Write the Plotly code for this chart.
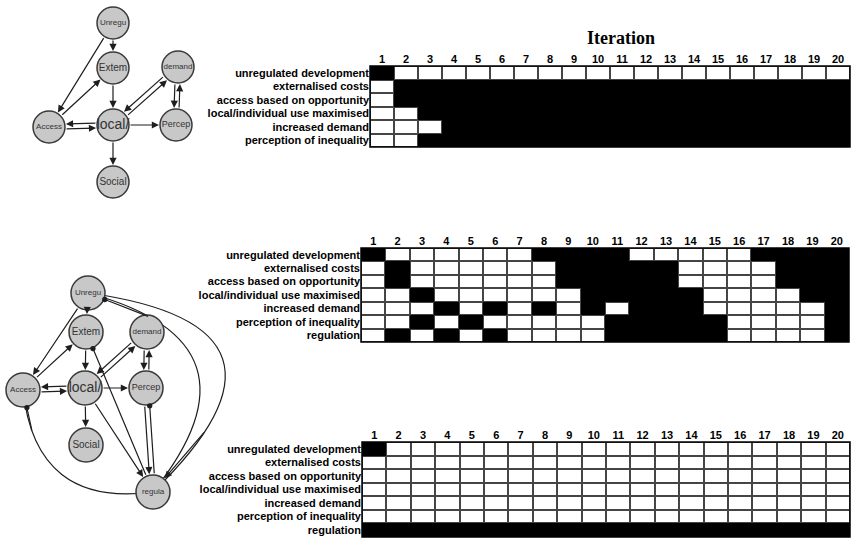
import math
import plotly.graph_objects as go

# ---- grid data -------------------------------------------------------------
ITERATIONS = [1, 2, 3, 4, 5, 6, 7, 8, 9, 10, 11, 12, 13, 14, 15, 16, 17, 18, 19, 20]
ROWS_NO_REG = ["unregulated development", "externalised costs", "access based on opportunity",
               "local/individual use maximised", "increased demand", "perception of inequality"]
ROWS_REG = ROWS_NO_REG + ["regulation"]

# 1 = state on (black), 0 = off (white)
grid_top = [
    [1, 0, 0, 0, 0, 0, 0, 0, 0, 0, 0, 0, 0, 0, 0, 0, 0, 0, 0, 0],
    [0, 1, 1, 1, 1, 1, 1, 1, 1, 1, 1, 1, 1, 1, 1, 1, 1, 1, 1, 1],
    [0, 1, 1, 1, 1, 1, 1, 1, 1, 1, 1, 1, 1, 1, 1, 1, 1, 1, 1, 1],
    [0, 0, 1, 1, 1, 1, 1, 1, 1, 1, 1, 1, 1, 1, 1, 1, 1, 1, 1, 1],
    [0, 0, 0, 1, 1, 1, 1, 1, 1, 1, 1, 1, 1, 1, 1, 1, 1, 1, 1, 1],
    [0, 0, 1, 1, 1, 1, 1, 1, 1, 1, 1, 1, 1, 1, 1, 1, 1, 1, 1, 1],
]
grid_mid = [
    [1, 0, 0, 0, 0, 0, 0, 1, 1, 1, 1, 0, 0, 0, 0, 0, 1, 1, 1, 1],
    [0, 1, 0, 0, 0, 0, 0, 0, 1, 1, 1, 1, 1, 0, 0, 0, 0, 1, 1, 1],
    [0, 1, 0, 0, 0, 0, 0, 0, 1, 1, 1, 1, 1, 0, 0, 0, 0, 1, 1, 1],
    [0, 0, 1, 0, 0, 0, 0, 0, 0, 1, 1, 1, 1, 1, 0, 0, 0, 0, 1, 1],
    [0, 0, 0, 1, 0, 1, 0, 1, 0, 1, 0, 1, 1, 1, 0, 0, 0, 0, 0, 1],
    [0, 0, 1, 0, 1, 0, 0, 0, 0, 0, 1, 1, 1, 1, 1, 0, 0, 0, 0, 1],
    [0, 1, 0, 1, 0, 1, 0, 0, 0, 0, 1, 1, 1, 1, 1, 0, 0, 0, 0, 1],
]
grid_bot = [
    [1, 0, 0, 0, 0, 0, 0, 0, 0, 0, 0, 0, 0, 0, 0, 0, 0, 0, 0, 0],
    [0, 0, 0, 0, 0, 0, 0, 0, 0, 0, 0, 0, 0, 0, 0, 0, 0, 0, 0, 0],
    [0, 0, 0, 0, 0, 0, 0, 0, 0, 0, 0, 0, 0, 0, 0, 0, 0, 0, 0, 0],
    [0, 0, 0, 0, 0, 0, 0, 0, 0, 0, 0, 0, 0, 0, 0, 0, 0, 0, 0, 0],
    [0, 0, 0, 0, 0, 0, 0, 0, 0, 0, 0, 0, 0, 0, 0, 0, 0, 0, 0, 0],
    [0, 0, 0, 0, 0, 0, 0, 0, 0, 0, 0, 0, 0, 0, 0, 0, 0, 0, 0, 0],
    [1, 1, 1, 1, 1, 1, 1, 1, 1, 1, 1, 1, 1, 1, 1, 1, 1, 1, 1, 1],
]

# ---- network data (layout coordinates of each diagram) ---------------------
net_top_names = ["Unregu", "Extem", "demand", "Access", "local/", "Percep", "Social"]
net_top_x = [113, 113, 178, 49, 113, 176, 113]
net_top_y = [23, 68, 67, 127, 125, 125, 182]
net_top_edges = [("Unregu", "Extem"), ("Unregu", "Access"), ("Access", "Extem"), ("Extem", "local/"),
                 ("local/", "demand"), ("demand", "local/"), ("demand", "Percep"), ("Percep", "demand"),
                 ("local/", "Access"), ("Access", "local/"), ("local/", "Percep"), ("local/", "Social")]
net_top_heads = ["arrow"] * len(net_top_edges)

net_bot_names = ["Unregu", "Extem", "demand", "Access", "local/", "Percep", "Social", "regula"]
net_bot_x = [88, 86, 147, 23, 85, 146, 86, 153]
net_bot_y = [23, 62, 62, 120, 118, 118, 175, 222]
net_bot_edges = net_top_edges + [("local/", "regula"), ("Percep", "regula"), ("regula", "Percep"),
                                 ("regula", "Extem")]
net_bot_heads = net_top_heads + ["arrow", "arrow", "dot", "dot"]
net_bot_curves = [("Unregu", "regula"), ("regula", "Unregu"), ("regula", "Access")]
net_bot_curve_heads = ["arrow", "dot", "dot"]
net_bot_curve_bend = [-215, 160, -85]

label_sizes = {"local/": 14, "Extem": 10, "Social": 10, "Percep": 9}

W, H = 851, 540
LABEL_FONT = dict(family="Liberation Sans Narrow, Arial Narrow, sans-serif", size=11,
                  color="black", weight="bold")


def px_x(a, b):
    return [a / W, b / W]


def px_y(top, bottom):
    return [1 - bottom / H, 1 - top / H]


fig = go.Figure()

# ---- the three state grids -------------------------------------------------
grids = [(grid_top, ROWS_NO_REG, (370, 850), (66, 147)),
         (grid_mid, ROWS_REG, (361, 849), (248, 342)),
         (grid_bot, ROWS_REG, (362, 850), (442, 537))]

for i, (z, rows, xs, ys) in enumerate(grids, start=1):
    sfx = "" if i == 1 else str(i)
    # white cells drawn with gaps (grid lines), black cells drawn solid on top
    z_off = [[0 if v == 0 else None for v in row] for row in z]
    z_on = [[1 if v == 1 else None for v in row] for row in z]
    fig.add_trace(go.Heatmap(
        x=ITERATIONS, y=rows, z=z_off, xaxis="x" + sfx, yaxis="y" + sfx,
        colorscale=[[0, "white"], [1, "white"]], zmin=0, zmax=1, showscale=False,
        xgap=2, ygap=2, hoverinfo="skip",
    ))
    fig.add_trace(go.Heatmap(
        x=ITERATIONS, y=rows, z=z_on, xaxis="x" + sfx, yaxis="y" + sfx,
        colorscale=[[0, "black"], [1, "black"]], zmin=0, zmax=1, showscale=False,
        hoverinfo="skip",
    ))
    fig.update_layout(**{
        "xaxis" + sfx: dict(domain=px_x(*xs), anchor="y" + sfx, side="top", range=[0.5, 20.5],
                            tickvals=ITERATIONS, ticks="", showgrid=False, zeroline=False,
                            tickfont=LABEL_FONT, ticklabelstandoff=0, automargin=False),
        "yaxis" + sfx: dict(domain=px_y(*ys), anchor="x" + sfx, autorange="reversed", ticks="",
                            showgrid=False, zeroline=False, tickfont=LABEL_FONT, ticklabelstandoff=0,
                            automargin=False),
    })
    # dark background shows through the gaps as the grid lines
    fig.add_shape(type="rect", xref="x" + sfx + " domain", yref="y" + sfx + " domain",
                  x0=0, x1=1, y0=0, y1=1, fillcolor="#454545", line_width=0, layer="below")
    fig.add_shape(type="rect", xref="x" + sfx + " domain", yref="y" + sfx + " domain",
                  x0=0, x1=1, y0=0, y1=1, line=dict(color="black", width=1.5), layer="above")

fig.add_annotation(text="<b>Iteration</b>", x=621 / W, y=1 - 38 / H, xref="paper", yref="paper",
                   xanchor="center", yanchor="middle", showarrow=False,
                   font=dict(family="Liberation Serif, Times New Roman, serif", size=18, color="black"))


# ---- network diagrams ------------------------------------------------------
def draw_network(names, xs, ys, edges, heads, xa, ya, radius, curves=(), curve_heads=(), bends=()):
    pos = dict(zip(names, zip(xs, ys)))
    pairs = set(edges)
    for (a, b), head in zip(edges, heads):
        x0, y0 = pos[a]
        x1, y1 = pos[b]
        d = math.hypot(x1 - x0, y1 - y0)
        off = 2.5 if (b, a) in pairs else 0
        ox, oy = -(y1 - y0) / d * off, (x1 - x0) / d * off
        fig.add_annotation(x=x1 + ox, y=y1 + oy, ax=x0 + ox, ay=y0 + oy, xref=xa, yref=ya,
                           axref=xa, ayref=ya, text="", showarrow=True,
                           arrowhead=2 if head == "arrow" else 6, arrowsize=1.2 if head == "arrow" else 1.1,
                           arrowwidth=1.2, arrowcolor="#1e1e1e",
                           standoff=radius + 1, startstandoff=radius)
    for (a, b), head, bend in zip(curves, curve_heads, bends):
        x0, y0 = pos[a]
        x1, y1 = pos[b]
        d = math.hypot(x1 - x0, y1 - y0)
        cx = (x0 + x1) / 2 - (y1 - y0) / d * bend
        cy = (y0 + y1) / 2 + (x1 - x0) / d * bend
        fig.add_shape(type="path", xref=xa, yref=ya, layer="below",
                      path=f"M{x0},{y0} Q{cx},{cy} {x1},{y1}",
                      line=dict(color="#1e1e1e", width=1.2))
        t = 0.8
        tx = (1 - t) ** 2 * x0 + 2 * (1 - t) * t * cx + t ** 2 * x1
        ty = (1 - t) ** 2 * y0 + 2 * (1 - t) * t * cy + t ** 2 * y1
        fig.add_annotation(x=x1, y=y1, ax=tx, ay=ty, xref=xa, yref=ya, axref=xa, ayref=ya,
                           text="", showarrow=True, arrowhead=2 if head == "arrow" else 6,
                           arrowsize=1.2 if head == "arrow" else 1.1, arrowwidth=1.2,
                           arrowcolor="#1e1e1e", standoff=radius + 1)
    fig.add_trace(go.Scatter(
        x=xs, y=ys, xaxis=xa, yaxis=ya, mode="markers+text", text=names,
        textposition="middle center", hoverinfo="skip",
        textfont=dict(family="Liberation Sans, Arial, sans-serif", color="#333333",
                      size=[label_sizes.get(n, 8) for n in names]),
        marker=dict(size=radius * 2, color="#c8c8c8", line=dict(color="#3a3a3a", width=1.5)),
    ))


draw_network(net_top_names, net_top_x, net_top_y, net_top_edges, net_top_heads, "x4", "y4", 16)
draw_network(net_bot_names, net_bot_x, net_bot_y, net_bot_edges, net_bot_heads, "x5", "y5", 17,
             net_bot_curves, net_bot_curve_heads, net_bot_curve_bend)

hidden = dict(visible=False, showgrid=False, zeroline=False)
fig.update_layout(
    xaxis4=dict(domain=px_x(0, 230), range=[0, 230], anchor="y4", **hidden),
    yaxis4=dict(domain=px_y(0, 200), range=[200, 0], anchor="x4", **hidden),
    xaxis5=dict(domain=px_x(0, 240), range=[0, 240], anchor="y5", **hidden),
    yaxis5=dict(domain=px_y(270, 520), range=[250, 0], anchor="x5", **hidden),
    width=W, height=H, margin=dict(l=0, r=0, t=0, b=0),
    paper_bgcolor="white", plot_bgcolor="white", showlegend=False,
)

# drop the page's default body margin so the figure sits at the window's corner
fig.write_html("out.html", config={"displayModeBar": False},
               post_script="document.body.style.margin='0';")
